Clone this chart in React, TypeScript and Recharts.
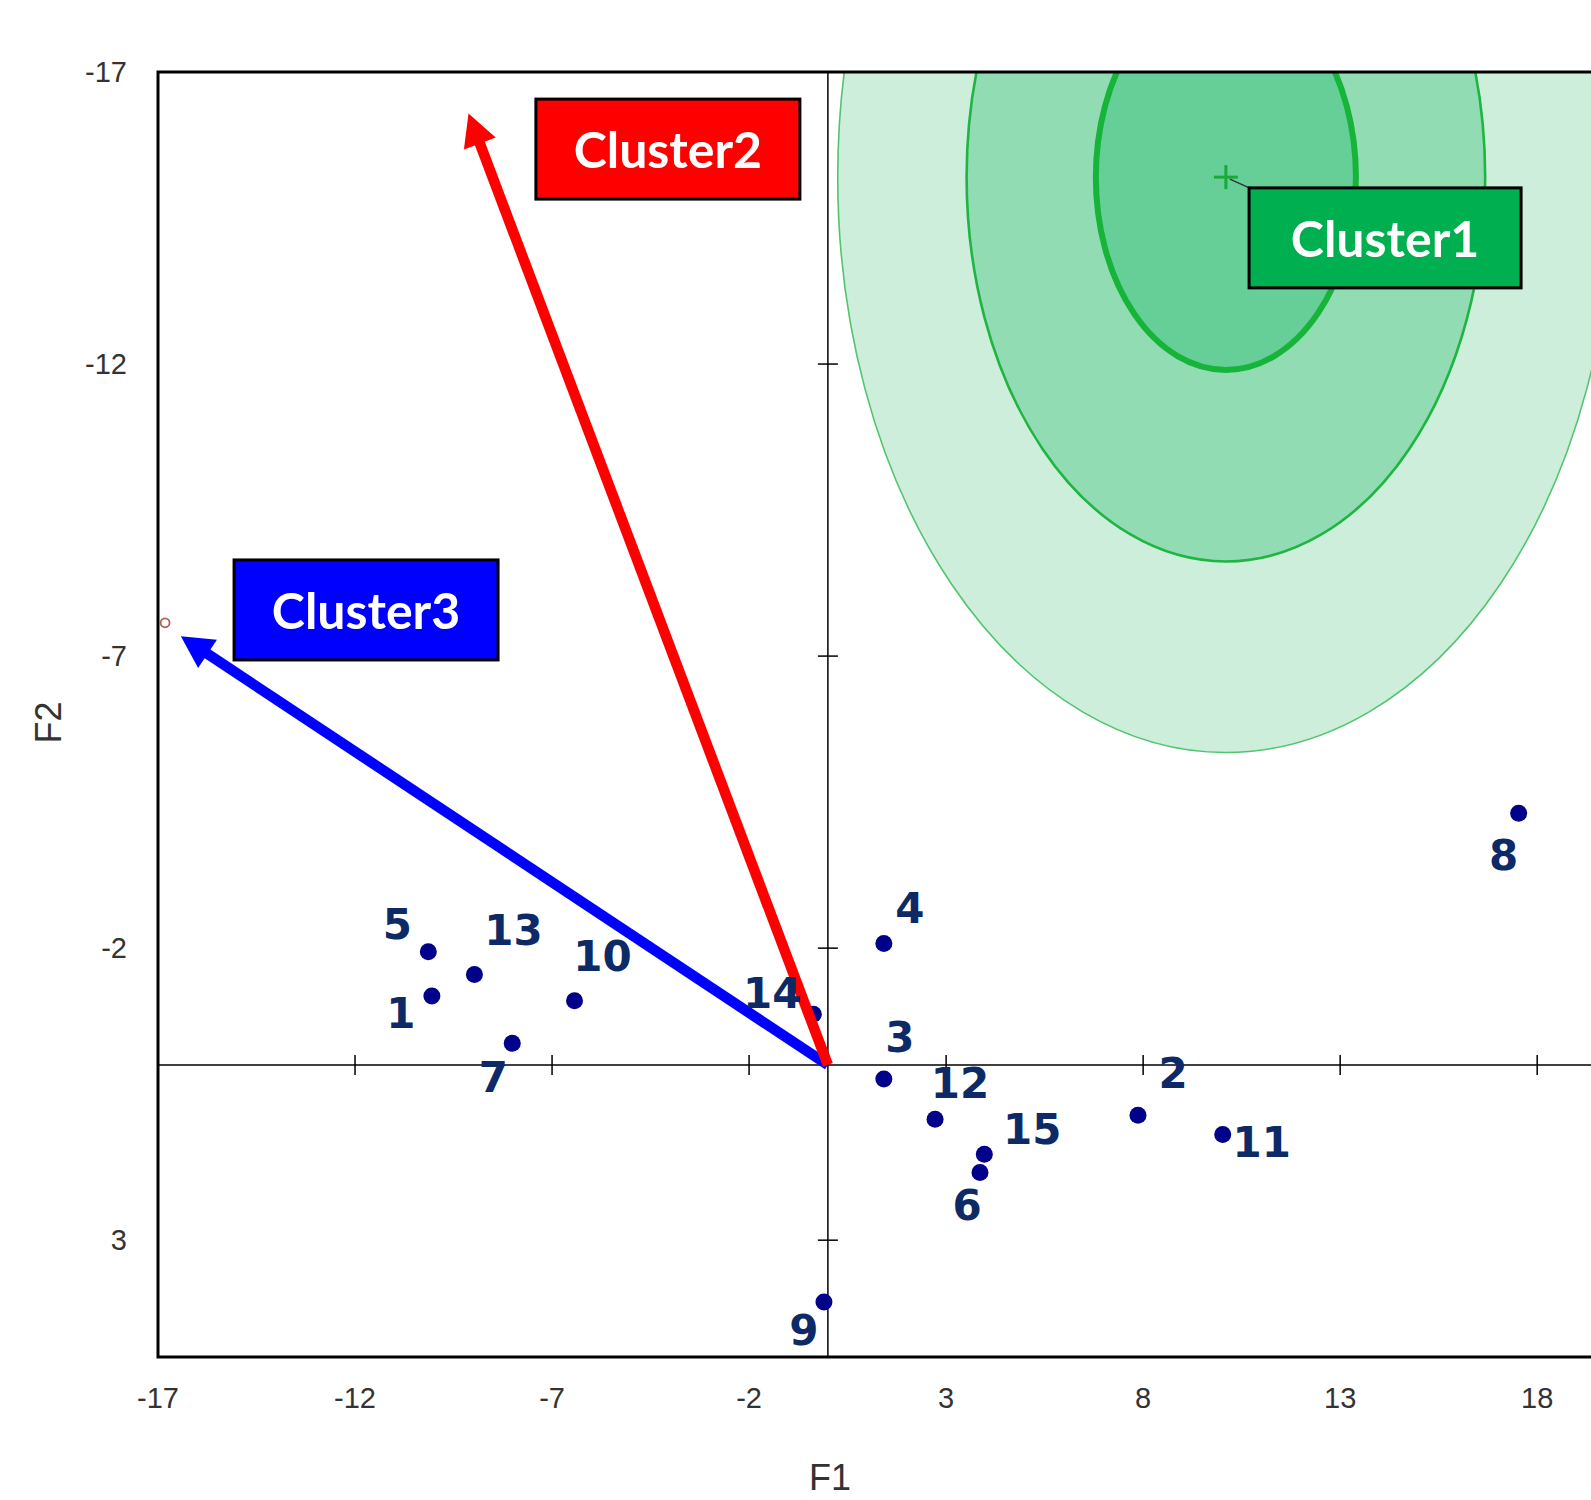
import React from 'react'
import {
  ScatterChart,
  Scatter,
  XAxis,
  YAxis,
  ReferenceLine,
  ReferenceArea,
  ReferenceDot,
} from 'recharts'

// observations (F1, F2 factor scores)
const POINT_NAMES = ['1', '2', '3', '4', '5', '6', '7', '8', '9', '10', '11', '12', '13', '14', '15']
const F1_VALUES = [-10.05, 7.87, 1.42, 1.42, -10.14, 3.86, -8.01, 17.53, -0.1, -6.43, 10.02, 2.72, -8.97, -0.37, 3.97]
const F2_VALUES = [-1.18, 0.86, 0.24, -2.08, -1.94, 1.84, -0.37, -4.31, 4.06, -1.1, 1.19, 0.93, -1.55, -0.87, 1.53]

const X_TICKS = [-17, -12, -7, -2, 3, 8, 13, 18]
const Y_TICKS = [-17, -12, -7, -2, 3]
const X_DOMAIN: [number, number] = [-17, 20]
const Y_DOMAIN: [number, number] = [-17, 5]

// Cluster1 centroid and its confidence rings
const CLUSTER1_CENTER = { x: 10.1, y: -15.2 }
const CLUSTER1_RADII = [9.85, 6.58, 3.3]

// Cluster2 / Cluster3 direction arrows from the origin
const ARROW_TIPS = [
  { name: 'Cluster3', x: -16.42, y: -7.34 },
  { name: 'Cluster2', x: -9.12, y: -16.29 },
]
const SMALL_MARK = { x: -16.82, y: -7.57 }

// cluster tag boxes
const CLUSTER_NAMES = ['Cluster1', 'Cluster2', 'Cluster3']
const CLUSTER_TAG_X = [14.14, -4.06, -11.72]
const CLUSTER_TAG_Y = [-14.16, -15.68, -7.79]

const points = POINT_NAMES.map((name, i) => ({ name, x: F1_VALUES[i], y: F2_VALUES[i] }))

// label offsets in px relative to each dot
const LABEL_OFFSETS: Record<string, [number, number]> = {
  '1': [-31, 17],
  '2': [35, -42],
  '3': [16, -41],
  '4': [26, -35],
  '5': [-31, -27],
  '6': [-13, 33],
  '7': [-19, 34],
  '8': [-15, 42],
  '9': [-20, 28],
  '10': [28, -44],
  '11': [39, 8],
  '12': [25, -36],
  '13': [39, -44],
  '14': [-41, -21],
  '15': [48, -25],
}

const RING_STYLES = [
  { fill: '#cdeedb', stroke: '#52c46f', width: 1.6 },
  { fill: '#91dcb2', stroke: '#1fb542', width: 2.6 },
  { fill: '#66cf98', stroke: '#16b438', width: 6 },
]

const TAG_STYLES: Record<string, { fill: string; w: number }> = {
  Cluster1: { fill: '#00b050', w: 272 },
  Cluster2: { fill: '#ff0000', w: 264 },
  Cluster3: { fill: '#0000ff', w: 264 },
}
const ARROW_COLORS: Record<string, string> = { Cluster2: '#ff0000', Cluster3: '#0000ff' }

const axisFont = '"Liberation Sans", Arial, sans-serif'
const labelFont = '"DejaVu Sans", Verdana, sans-serif'
const tagFont = 'Lato, "Open Sans", sans-serif'

const arrowShape = (color: string) => (p: any) => {
  const { x1, y1, x2, y2 } = p
  const dx = x2 - x1
  const dy = y2 - y1
  const len = Math.hypot(dx, dy)
  const ux = dx / len
  const uy = dy / len
  const headLen = 32
  const headHalf = 17
  const bx = x2 - ux * headLen
  const by = y2 - uy * headLen
  const nx = -uy
  const ny = ux
  return (
    <g>
      <line x1={x1} y1={y1} x2={bx + ux * 4} y2={by + uy * 4} stroke={color} strokeWidth={10.5} />
      <polygon
        points={`${x2},${y2} ${bx + nx * headHalf},${by + ny * headHalf} ${bx - nx * headHalf},${by - ny * headHalf}`}
        fill={color}
      />
    </g>
  )
}

export default function App() {
  return (
    <div style={{ position: 'absolute', left: 0, top: 0, width: 1591, height: 1500, overflow: 'hidden', background: '#fff' }}>
      <ScatterChart width={1626} height={1500} margin={{ top: 72, right: 10, bottom: 0, left: 0 }}>
        <XAxis
          type="number"
          dataKey="x"
          domain={X_DOMAIN}
          ticks={X_TICKS}
          interval={0}
          allowDataOverflow
          axisLine={false}
          tickLine={false}
          tickSize={0}
          tickMargin={0}
          height={143}
          tick={(p: any) => (
            <text x={p.x} y={p.y + 41} textAnchor="middle" dominantBaseline="central" fontSize={29} fill="#333" fontFamily={axisFont}>
              {p.payload.value}
            </text>
          )}
          label={(p: any) => {
            const vb = p.viewBox
            return (
              <text x={vb.x + 672} y={1490} textAnchor="middle" fontSize={36} fill="#333" fontFamily={axisFont}>
                F1
              </text>
            )
          }}
        />
        <YAxis
          type="number"
          dataKey="y"
          domain={Y_DOMAIN}
          reversed
          ticks={Y_TICKS}
          interval={0}
          allowDataOverflow
          axisLine={false}
          tickLine={false}
          tickSize={0}
          tickMargin={0}
          width={158}
          tick={(p: any) => (
            <text x={p.x - 31} y={p.y} textAnchor="end" dominantBaseline="central" fontSize={29} fill="#333" fontFamily={axisFont}>
              {p.payload.value}
            </text>
          )}
          label={(p: any) => {
            const vb = p.viewBox
            const cy = vb.y + vb.height / 2 + 8
            return (
              <text
                x={48}
                y={cy}
                textAnchor="middle"
                dominantBaseline="central"
                transform={`rotate(-90 48 ${cy})`}
                fontSize={36}
                fill="#333"
                fontFamily={axisFont}
              >
                F2
              </text>
            )
          }}
        />

        {/* confidence rings of Cluster1 */}
        {CLUSTER1_RADII.map((r, i) => (
          <ReferenceArea
            key={`ring-${i}`}
            x1={CLUSTER1_CENTER.x - r}
            x2={CLUSTER1_CENTER.x + r}
            y1={CLUSTER1_CENTER.y - r}
            y2={CLUSTER1_CENTER.y + r}
            ifOverflow="hidden"
            shape={(p: any) => (
              <ellipse
                clipPath={p.clipPath}
                cx={p.x + p.width / 2}
                cy={p.y + p.height / 2}
                rx={Math.abs(p.width) / 2}
                ry={Math.abs(p.height) / 2}
                fill={RING_STYLES[i].fill}
                stroke={RING_STYLES[i].stroke}
                strokeWidth={RING_STYLES[i].width}
              />
            )}
          />
        ))}

        {/* axes through the origin */}
        <ReferenceLine x={0} stroke="#000" strokeWidth={1.5} />
        <ReferenceLine y={0} stroke="#000" strokeWidth={1.5} />
        {X_TICKS.filter((t) => t > X_DOMAIN[0]).map((t) => (
          <ReferenceDot
            key={`xt-${t}`}
            x={t}
            y={0}
            shape={(p: any) => <line x1={p.cx} x2={p.cx} y1={p.cy - 10} y2={p.cy + 10} stroke="#000" strokeWidth={1.5} />}
          />
        ))}
        {Y_TICKS.filter((t) => t > Y_DOMAIN[0]).map((t) => (
          <ReferenceDot
            key={`yt-${t}`}
            x={0}
            y={t}
            shape={(p: any) => <line x1={p.cx - 10} x2={p.cx + 10} y1={p.cy} y2={p.cy} stroke="#000" strokeWidth={1.5} />}
          />
        ))}

        <Scatter
          data={points}
          isAnimationActive={false}
          shape={(p: any) => <circle cx={p.cx} cy={p.cy} r={8.5} fill="#00008b" />}
        />

        {/* centroid cross and leader */}
        <ReferenceDot
          x={CLUSTER1_CENTER.x}
          y={CLUSTER1_CENTER.y}
          shape={(p: any) => (
            <g stroke="#1aa83a" strokeWidth={3}>
              <line x1={p.cx - 12} x2={p.cx + 12} y1={p.cy} y2={p.cy} />
              <line x1={p.cx} x2={p.cx} y1={p.cy - 12} y2={p.cy + 12} />
              <line x1={p.cx + 4} y1={p.cy + 2} x2={p.cx + 24} y2={p.cy + 11} stroke="#333" strokeWidth={1.5} />
            </g>
          )}
        />

        <ReferenceDot
          x={SMALL_MARK.x}
          y={SMALL_MARK.y}
          shape={(p: any) => <circle cx={p.cx} cy={p.cy} r={4.5} fill="none" stroke="#b0605a" strokeWidth={1.8} />}
        />

        {ARROW_TIPS.map((a) => (
          <ReferenceLine
            key={a.name}
            {...({ zIndex: 650 } as any)}
            segment={[
              { x: 0, y: 0 },
              { x: a.x, y: a.y },
            ]}
            shape={arrowShape(ARROW_COLORS[a.name])}
          />
        ))}

        {/* point labels */}
        <Scatter
          data={points}
          isAnimationActive={false}
          {...({ zIndex: 700 } as any)}
          shape={(p: any) => {
            const [dx, dy] = LABEL_OFFSETS[p.payload.name] || [0, 0]
            return (
              <text
                x={p.cx + dx}
                y={p.cy + dy}
                textAnchor="middle"
                dominantBaseline="central"
                fontSize={42}
                fontWeight="bold"
                fill="#0d2a66"
                fontFamily={labelFont}
              >
                {p.payload.name}
              </text>
            )
          }}
        />

        {CLUSTER_NAMES.map((name, i) => (
          <ReferenceDot
            key={name}
            x={CLUSTER_TAG_X[i]}
            y={CLUSTER_TAG_Y[i]}
            {...({ zIndex: 750 } as any)}
            shape={(p: any) => {
              const w = TAG_STYLES[name].w
              const h = 100
              return (
                <g>
                  <rect x={p.cx - w / 2} y={p.cy - h / 2} width={w} height={h} fill={TAG_STYLES[name].fill} stroke="#000" strokeWidth={3} />
                  <text
                    x={p.cx}
                    y={p.cy}
                    textAnchor="middle"
                    dominantBaseline="central"
                    fontSize={50}
                    fontWeight="bold"
                    fill="#fff"
                    fontFamily={tagFont}
                  >
                    {name}
                  </text>
                </g>
              )
            }}
          />
        ))}

        {/* plot frame */}
        <ReferenceArea
          x1={X_DOMAIN[0]}
          x2={X_DOMAIN[1]}
          y1={Y_DOMAIN[0]}
          y2={Y_DOMAIN[1]}
          ifOverflow="visible"
          {...({ zIndex: 800 } as any)}
          fill="none"
          fillOpacity={0}
          stroke="#000"
          strokeWidth={3}
        />
      </ScatterChart>
    </div>
  )
}
